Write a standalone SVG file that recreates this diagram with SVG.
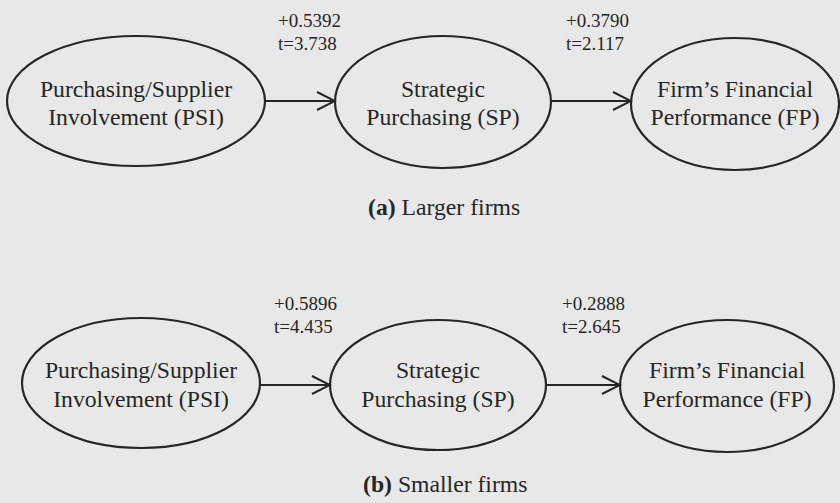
<svg xmlns="http://www.w3.org/2000/svg" width="840" height="503" viewBox="0 0 840 503">
<defs>
<marker id="arr" viewBox="0 0 22 22" refX="20" refY="11" markerWidth="22" markerHeight="22" markerUnits="userSpaceOnUse" orient="auto">
<path d="M2,2 L20,11 L2,20" fill="none" stroke="#262626" stroke-width="2"/>
</marker>
<style>
.n{fill:none;stroke:#262626;stroke-width:2.2}
.t{font-family:"Liberation Serif","Times New Roman",serif;font-size:23.7px;fill:#262626;text-anchor:middle}
.l{font-family:"Liberation Serif","Times New Roman",serif;font-size:19px;fill:#262626}
.c{font-family:"Liberation Serif","Times New Roman",serif;font-size:23.7px;fill:#262626}
.e{stroke:#262626;stroke-width:2.2;fill:none;marker-end:url(#arr)}
</style>
</defs>
<rect width="840" height="503" fill="#e8e8e8"/>
<g id="connectors">
<line class="e" x1="265" y1="101" x2="335" y2="101"/>
<line class="e" x1="552" y1="101" x2="631" y2="101"/>
<line class="e" x1="260" y1="385" x2="330" y2="385"/>
<line class="e" x1="547" y1="385" x2="620" y2="385"/>
</g>
<g id="labels">
<text class="l" x="278" y="27">+0.5392</text>
<text class="l" x="278" y="50">t=3.738</text>
<text class="l" x="566" y="27">+0.3790</text>
<text class="l" x="566" y="50">t=2.117</text>
<text class="l" x="274" y="310">+0.5896</text>
<text class="l" x="274" y="333">t=4.435</text>
<text class="l" x="562" y="310">+0.2888</text>
<text class="l" x="562" y="333">t=2.645</text>
</g>
<g id="psi-a">
<ellipse class="n" cx="136" cy="101" rx="129" ry="65"/>
<text class="t" x="136" y="97">Purchasing/Supplier</text>
<text class="t" x="136" y="125">Involvement (PSI)</text>
</g>
<g id="sp-a">
<ellipse class="n" cx="443" cy="102" rx="108" ry="66"/>
<text class="t" x="443" y="97">Strategic</text>
<text class="t" x="443" y="125">Purchasing (SP)</text>
</g>
<g id="fp-a">
<ellipse class="n" cx="735" cy="104" rx="104" ry="66"/>
<text class="t" x="735" y="97">Firm’s Financial</text>
<text class="t" x="735" y="125">Performance (FP)</text>
</g>
<text class="c" x="368" y="215"><tspan font-weight="bold">(a)</tspan> Larger firms</text>
<g id="psi-b">
<ellipse class="n" cx="141" cy="383" rx="119" ry="65"/>
<text class="t" x="141" y="378">Purchasing/Supplier</text>
<text class="t" x="141" y="407">Involvement (PSI)</text>
</g>
<g id="sp-b">
<ellipse class="n" cx="438" cy="385" rx="108" ry="65"/>
<text class="t" x="438" y="378">Strategic</text>
<text class="t" x="438" y="407">Purchasing (SP)</text>
</g>
<g id="fp-b">
<ellipse class="n" cx="727" cy="386" rx="107" ry="66"/>
<text class="t" x="727" y="378">Firm’s Financial</text>
<text class="t" x="727" y="407">Performance (FP)</text>
</g>
<text class="c" x="363" y="492"><tspan font-weight="bold">(b)</tspan> Smaller firms</text>
</svg>
